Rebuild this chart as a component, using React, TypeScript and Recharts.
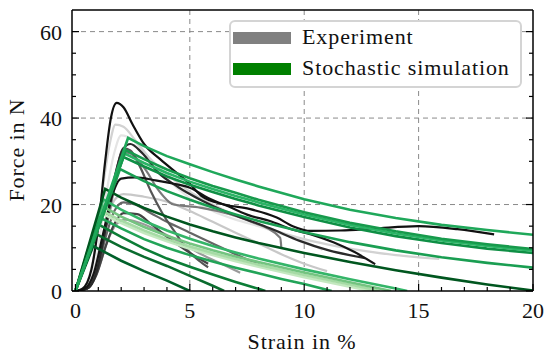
import React from 'react';
import { LineChart, Line, XAxis, YAxis, CartesianGrid, Label } from 'recharts';

type Pt = [number, number];

// ---------- tick labels / axis ----------
const X_TICKS = [0, 1, 2, 3, 4, 5, 6, 7, 8, 9, 10, 11, 12, 13, 14, 15, 16, 17, 18, 19, 20];
const Y_TICKS = [0, 5, 10, 15, 20, 25, 30, 35, 40, 45, 50, 55, 60];
const X_GRID = [5, 10, 15];
const Y_GRID = [20, 40, 60];
const X_LABEL = 'Strain in %';
const Y_LABEL = 'Force in N';
const LEGEND_LABELS = ['Experiment', 'Stochastic simulation'];

// ---------- experiments (strain %, force N) ----------
const exLightTall: Pt[] = [[0,0],[0.4,1],[0.8,8],[1.2,24],[1.5,34],[1.75,38.5],[2.1,38],[2.6,35],[3.2,31],[4,27],[5,23],[6,20],[7,17.5],[8,15.5],[9,13.5],[10,12],[11,10.8],[12,9.8],[13,9],[14,8.3],[15,7.8],[15.9,7.4]];
const exLighter: Pt[] = [[0,0],[0.5,1],[0.9,7],[1.3,21],[1.7,32],[2.0,36],[2.5,35],[3,32],[4,26],[5,21.5],[6,18.5],[7,16.5],[8,15],[9,13.2],[10,11.5],[10.8,9.5]];
const exLightLow: Pt[] = [[0,0],[0.5,0.8],[0.9,6],[1.3,15],[1.7,21],[2.1,22.4],[3,21.8],[4.1,20.5],[5,18.5],[6,16],[7,13.5],[8,11],[9,8.5],[10,6.3],[11,4.6]];
const exGrayThick: Pt[] = [[0,0],[0.6,0.8],[1,5],[1.4,11.5],[1.8,15.5],[2.2,16.5],[2.8,15.8],[3.6,14],[4.5,11.5],[5.5,8.5],[6.5,6],[7.2,4.2]];
const exGrayHook: Pt[] = [[0,0],[0.6,1],[1.0,6],[1.4,16],[1.8,26],[2.24,32],[3.1,27.8],[3.55,23.9],[4.3,20],[5.45,19.3],[7.6,16.2],[8.95,12.3],[9.0,10]];
const exGrayMid: Pt[] = [[0,0],[0.5,0.5],[0.9,4],[1.3,12],[1.7,18.5],[2.1,20.5],[2.6,20],[3.3,18],[4,16],[5,13.5],[6,11],[7,8.5],[8,6.2],[8.6,5]];
const exGrayDrop: Pt[] = [[0,0],[0.6,1],[1.0,6],[1.4,17],[1.8,28],[2.1,33],[2.4,32.5],[2.8,29],[3.3,23],[3.8,18],[4.3,14],[4.9,9.5],[5.4,7],[5.8,5.5]];
const exDarkShort: Pt[] = [[0,0],[0.5,0.5],[0.9,3.5],[1.3,10],[1.7,15.5],[2.1,18],[2.7,17.8],[3.3,15.5],[4,12.5],[4.8,9.5],[5.8,6.3]];
const exNearBlack: Pt[] = [[0,0],[0.5,0.5],[0.9,4],[1.3,14],[1.7,26],[2.1,33],[2.4,34],[2.9,32],[3.6,27.5],[4.5,24],[5.5,21],[6.5,18.5],[7.5,16.5],[8.5,14.5],[9.8,11.6],[11,9.5],[12.66,7.6]];
const exBlackLow: Pt[] = [[0,0],[0.4,0.5],[0.8,4],[1.2,13],[1.6,22],[2.0,26],[2.6,26.3],[3.5,25.6],[4.3,24.8],[5.0,23.9],[5.8,21.5],[6.8,19.3],[7.6,17.5],[8.5,16.2],[9.5,14.2],[10.3,13.1],[11.3,11.2],[12.2,9],[13.1,6.2]];
const exBlackTall: Pt[] = [[0,0],[0.3,0.5],[0.7,5],[1.0,15],[1.3,30],[1.55,40],[1.8,43.5],[2.1,42.5],[2.5,38.5],[3.0,34],[3.7,30.5],[4.5,27],[5.0,24.8],[5.5,22],[6.5,20],[7.6,19],[8.8,17],[9.5,15],[10.3,13.9],[11.6,14],[13,14.4],[15,15],[16.7,14.3],[18.3,13.1]];

// ---------- stochastic simulations ----------
const simA: Pt[] = [[0,0],[2.3,35.4],[3,33.5],[4,31.2],[5,29.3],[6,27.5],[7,25.8],[8,24.2],[10,21.2],[12,18.8],[14,16.9],[16,15.3],[18,14.1],[20,13.0]];
const simB1: Pt[] = [[0,0],[2.2,32.6],[3,30.5],[4,28.1],[5,26.1],[6,24.3],[7,22.7],[8,21.1],[10,18.2],[12,15.8],[14,13.8],[16,12.1],[18,10.8],[20,9.7]];
const simB2: Pt[] = [[0,0],[2.15,31.8],[3,29.6],[4,27.3],[5,25.3],[6,23.6],[7,22],[8,20.5],[10,17.7],[12,15.3],[14,13.3],[16,11.7],[18,10.4],[20,9.3]];
const simB3: Pt[] = [[0,0],[2.1,31.0],[3,28.8],[4,26.5],[5,24.6],[6,22.9],[7,21.3],[8,19.8],[10,17.1],[12,14.7],[14,12.7],[16,11.1],[18,9.8],[20,8.8]];
const simC: Pt[] = [[0,0],[1.95,28.2],[3,25.4],[4,23.1],[5,21.1],[6,19.3],[7,17.7],[8,16.2],[10,13.6],[12,11.3],[14,9.4],[16,7.8],[18,6.5],[20,5.4]];
const simD: Pt[] = [[0,0],[1.3,23.6],[2,21.6],[3,19.2],[4,17.2],[5,15.4],[6,13.8],[7,12.4],[8,11.1],[10,8.8],[12,6.7],[14,4.8],[16,3.1],[18,1.5],[20,0.1]];
const simE: Pt[] = [[0,0],[1.22,21.2],[2,18.8],[3,16.2],[4,14],[5,12.1],[6,10.4],[7,8.9],[8,7.5],[10,5],[12,2.7],[14,0.6],[14.5,0]];
const simK: Pt[] = [[0,0],[1.18,19.6],[2,17.2],[3,14.8],[4,12.8],[5,11],[6,9.4],[7,8],[8,6.7],[10,4.3],[12,2],[13.8,0]];
const simF: Pt[] = [[0,0],[1.15,18.6],[2,16.3],[3,14],[4,12],[5,10.3],[6,8.8],[7,7.4],[8,6.1],[10,3.7],[12,1.5],[13.3,0]];
const simF2: Pt[] = [[0,0],[1.12,18],[2,15.7],[3,13.4],[4,11.5],[5,9.8],[6,8.3],[7,6.9],[8,5.6],[10,3.2],[12,1],[12.9,0]];
const simG: Pt[] = [[0,0],[1.07,17],[2,14.5],[3,12],[4,10],[5,8.3],[6,6.8],[7,5.4],[8,4.1],[9,2.8],[10,1.6],[11.2,0]];
const simH: Pt[] = [[0,0],[1.0,15.4],[2,12.5],[3,9.8],[4,7.5],[5,5.6],[6,3.8],[7,2.1],[8,0.5],[8.3,0]];
const simI: Pt[] = [[0,0],[0.93,13.1],[2,10.2],[3,7.9],[4,5.8],[5,3.5],[6,1.2],[6.5,0]];
const simJ: Pt[] = [[0,0],[0.78,10.4],[2,7],[3,4.6],[4,2.4],[5,0]];

// ---------- styling ----------
const FONT = 'Liberation Serif, DejaVu Serif, serif';
const EXPERIMENTS: { data: Pt[]; color: string }[] = [
  { data: exLighter, color: '#e4e4e4' },
  { data: exLightTall, color: '#d2d2d2' },
  { data: exLightLow, color: '#c8c8c8' },
  { data: exGrayThick, color: '#9a9a9a' },
  { data: exGrayHook, color: '#7a7a7a' },
  { data: exGrayMid, color: '#666666' },
  { data: exGrayDrop, color: '#555555' },
  { data: exDarkShort, color: '#444444' },
  { data: exNearBlack, color: '#2a2a2a' },
  { data: exBlackLow, color: '#151515' },
  { data: exBlackTall, color: '#111111' },
];
const SIMULATIONS: { data: Pt[]; color: string }[] = [
  { data: simF2, color: '#c4e8c0' },
  { data: simF, color: '#a6dba5' },
  { data: simK, color: '#74c480' },
  { data: simE, color: '#34b568' },
  { data: simG, color: '#22a458' },
  { data: simH, color: '#0c7d36' },
  { data: simI, color: '#0a6b2e' },
  { data: simJ, color: '#00602a' },
  { data: simD, color: '#00561f' },
  { data: simC, color: '#1a9e52' },
  { data: simB3, color: '#0f8f45' },
  { data: simB2, color: '#2bb465' },
  { data: simB1, color: '#179a4c' },
  { data: simA, color: '#1fa85a' },
];
const LEGEND_COLORS = ['#808080', '#008000'];

const toRows = (pts: Pt[]) => pts.map(([x, y]) => ({ x, y }));

const textStyle = { fontFamily: FONT, fontSize: 22 } as React.CSSProperties;

const XBottomTick = (props: any) => {
  const { x, y, payload } = props;
  const v = payload.value;
  const major = v % 5 === 0;
  return (
    <g>
      <line x1={x} y1={y} x2={x} y2={y - (major ? 7 : 4)} stroke="#000" strokeWidth={1.2} />
      {major && (
        <text x={x} y={y + 27} textAnchor="middle" style={textStyle} fill="#111">
          {v}
        </text>
      )}
    </g>
  );
};
const XTopTick = (props: any) => {
  const { x, y, payload } = props;
  const major = payload.value % 5 === 0;
  return <line x1={x} y1={y} x2={x} y2={y + (major ? 7 : 4)} stroke="#000" strokeWidth={1.2} />;
};
const YLeftTick = (props: any) => {
  const { x, y, payload } = props;
  const v = payload.value;
  const major = v % 20 === 0;
  return (
    <g>
      <line x1={x} y1={y} x2={x + (major ? 7 : 4)} y2={y} stroke="#000" strokeWidth={1.2} />
      {major && (
        <text x={x - 10} y={y + 8} textAnchor="end" style={textStyle} fill="#111">
          {v}
        </text>
      )}
    </g>
  );
};
const YRightTick = (props: any) => {
  const { x, y, payload } = props;
  const major = payload.value % 20 === 0;
  return <line x1={x} y1={y} x2={x - (major ? 7 : 4)} y2={y} stroke="#000" strokeWidth={1.2} />;
};

const AXIS_LINE = { stroke: '#000', strokeWidth: 1.5 };

export default function App() {
  return (
    <div style={{ position: 'absolute', left: 0, top: 0, width: 550, height: 360, background: '#fff', fontFamily: FONT }}>
      <LineChart width={550} height={360} margin={{ top: 9, right: 16, bottom: 0, left: 0 }}>
        <CartesianGrid
          xAxisId="b"
          yAxisId="l"
          verticalValues={X_GRID}
          horizontalValues={Y_GRID}
          stroke="#8a8a8a"
          strokeDasharray="5 4"
          strokeWidth={1}
        />
        <XAxis
          xAxisId="b"
          orientation="bottom"
          type="number"
          dataKey="x"
          domain={[-0.15, 20]}
          allowDataOverflow
          ticks={X_TICKS}
          interval={0}
          height={69}
          tickSize={0}
          tickMargin={0}
          tickLine={false}
          tick={<XBottomTick />}
          axisLine={AXIS_LINE}
        >
          <Label
            content={() => (
              <text x={302} y={349} textAnchor="middle" style={{ ...textStyle, letterSpacing: 0.9 }} fill="#111">
                {X_LABEL}
              </text>
            )}
          />
        </XAxis>
        <XAxis
          xAxisId="t"
          orientation="top"
          type="number"
          domain={[-0.15, 20]}
          allowDataOverflow
          ticks={X_TICKS}
          interval={0}
          height={1}
          tickSize={0}
          tickMargin={0}
          tickLine={false}
          tick={<XTopTick />}
          axisLine={AXIS_LINE}
        />
        <YAxis
          yAxisId="l"
          orientation="left"
          type="number"
          domain={[0, 65]}
          allowDataOverflow
          ticks={Y_TICKS}
          interval={0}
          width={72}
          tickSize={0}
          tickMargin={0}
          tickLine={false}
          tick={<YLeftTick />}
          axisLine={AXIS_LINE}
        >
          <Label
            content={() => (
              <text
                x={24}
                y={150}
                transform="rotate(-90 24 150)"
                textAnchor="middle"
                style={{ ...textStyle, letterSpacing: 0.9 }}
                fill="#111"
              >
                {Y_LABEL}
              </text>
            )}
          />
        </YAxis>
        <YAxis
          yAxisId="r"
          orientation="right"
          type="number"
          domain={[0, 65]}
          allowDataOverflow
          ticks={Y_TICKS}
          interval={0}
          width={1}
          tickSize={0}
          tickMargin={0}
          tickLine={false}
          tick={<YRightTick />}
          axisLine={AXIS_LINE}
        />
        {EXPERIMENTS.map((s, i) => (
          <Line
            key={'e' + i}
            data={toRows(s.data)}
            dataKey="y"
            xAxisId="b"
            yAxisId="l"
            type="monotone"
            stroke={s.color}
            strokeWidth={2.2}
            dot={false}
            activeDot={false}
            isAnimationActive={false}
          />
        ))}
        {SIMULATIONS.map((s, i) => (
          <Line
            key={'s' + i}
            data={toRows(s.data)}
            dataKey="y"
            xAxisId="b"
            yAxisId="l"
            type="linear"
            stroke={s.color}
            strokeWidth={2.6}
            dot={false}
            activeDot={false}
            isAnimationActive={false}
          />
        ))}
      </LineChart>
      <div
        style={{
          position: 'absolute',
          left: 229,
          top: 20,
          width: 293,
          height: 68,
          boxSizing: 'border-box',
          border: '2px solid #d4d4d4',
          borderRadius: 6,
          background: '#fff',
          fontFamily: FONT,
          fontSize: 22,
          letterSpacing: 0.9,
          color: '#111',
        }}
      >
        {LEGEND_LABELS.map((lab, i) => (
          <div key={lab} style={{ position: 'absolute', left: 0, top: i === 0 ? 0 : 31, height: 34, width: '100%' }}>
            <div
              style={{
                position: 'absolute',
                left: 2,
                top: 10,
                width: 58,
                height: 12,
                background: LEGEND_COLORS[i],
              }}
            />
            <div style={{ position: 'absolute', left: 71, top: 1, lineHeight: '28px', whiteSpace: 'nowrap' }}>{lab}</div>
          </div>
        ))}
      </div>
    </div>
  );
}
